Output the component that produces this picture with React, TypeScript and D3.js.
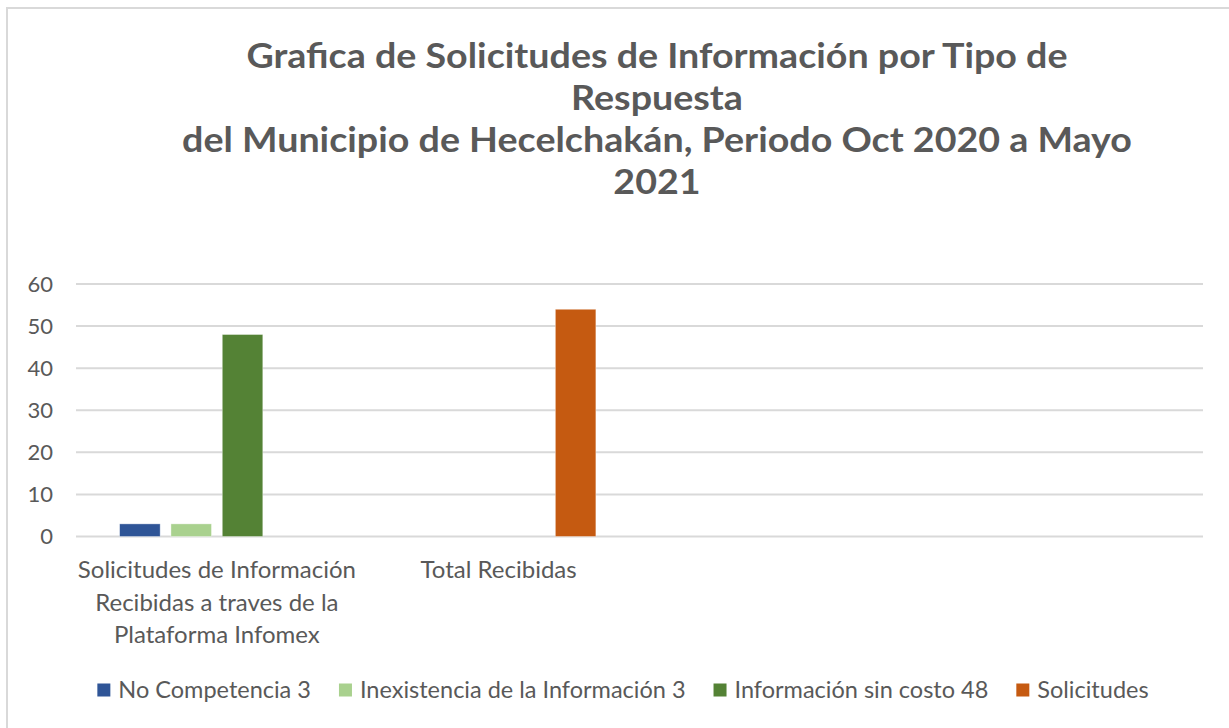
import React from "react";
import * as d3 from "d3";

const titleLines = [
  "Grafica de Solicitudes de Información por Tipo de",
  "Respuesta",
  "del Municipio de Hecelchakán, Periodo Oct 2020 a Mayo",
  "2021",
];

const categoryKeys = ["cat1", "cat2", "cat3", "cat4"];
const categoryLines = [
  ["Solicitudes de Información", "Recibidas a traves de la", "Plataforma Infomex"],
  ["Total Recibidas"],
  [],
  [],
];

const seriesNames = [
  "No Competencia 3",
  "Inexistencia de la Información 3",
  "Información sin costo 48",
  "Solicitudes",
];
const seriesColors = ["#2F5597", "#A9D18E", "#548235", "#C55A11"];

const noCompetencia = [3, 0, 0, 0];
const inexistencia = [3, 0, 0, 0];
const sinCosto = [48, 0, 0, 0];
const solicitudes = [0, 54, 0, 0];
const seriesValues = [noCompetencia, inexistencia, sinCosto, solicitudes];

const yTicks = [0, 10, 20, 30, 40, 50, 60];

const W = 1229;
const H = 728;
const TEXT = "#595959";
const GRID = "#d9d9d9";

function measure(text: string, font: string): number {
  const c = document.createElement("canvas").getContext("2d");
  if (!c) return text.length * 10;
  c.font = font;
  return c.measureText(text).width;
}

export default function App() {
  const plot = { left: 76, right: 1203, top: 284, bottom: 536.5 };
  const x0 = d3.scaleBand<string>().domain(categoryKeys).range([plot.left, plot.right]).paddingInner(0).paddingOuter(0);
  const x1 = d3
    .scaleBand<number>()
    .domain(d3.range(seriesNames.length))
    .range([0, x0.bandwidth()])
    .paddingInner(0.21)
    .paddingOuter(0.85);
  const y = d3.scaleLinear().domain([0, 60]).range([plot.bottom, plot.top]);

  const bars: { key: string; s: number; c: number; v: number }[] = [];
  seriesValues.forEach((vals, s) =>
    vals.forEach((v, c) => {
      if (v > 0) bars.push({ key: `${s}-${c}`, s, c, v });
    })
  );

  // legend layout
  const legendSize = 23.5;
  const legendFont = `${legendSize}px Lato`;
  const sq = 13;
  const sqGap = 8;
  const itemGap = 28;
  const widths = seriesNames.map((n) => measure(n, legendFont));
  const total = widths.reduce((a, w) => a + sq + sqGap + w, 0) + itemGap * (seriesNames.length - 1);
  const legendCenter = 623;
  let lx = legendCenter - total / 2;
  const legendItems = seriesNames.map((n, i) => {
    const item = { name: n, color: seriesColors[i], x: lx };
    lx += sq + sqGap + widths[i] + itemGap;
    return item;
  });

  const titleCx = 657;
  const titleBase = 68;
  const titleStep = 42;

  return (
    <svg
      width={W}
      height={H}
      style={{ position: "fixed", left: 0, top: 0, background: "#fff" }}
      fontFamily="Lato, sans-serif"
    >
      <rect x={0} y={0} width={W} height={H} fill="#fff" />
      <rect x={7} y={8} width={W + 100} height={H + 100} fill="#fff" stroke={GRID} strokeWidth={2} />

      <g transform={`translate(${titleCx},0) scale(1.075,1)`}>
        {titleLines.map((t, i) => (
          <text
            key={i}
            x={0}
            y={titleBase + i * titleStep}
            textAnchor="middle"
            fontSize={35}
            fontWeight={700}
            fill={TEXT}
          >
            {t}
          </text>
        ))}
      </g>

      {yTicks.map((t) => (
        <g key={t}>
          <line x1={plot.left} x2={plot.right} y1={y(t)} y2={y(t)} stroke={GRID} strokeWidth={2} />
          <text x={53} y={y(t) + 7.5} textAnchor="end" fontSize={22} fill={TEXT}>
            {t}
          </text>
        </g>
      ))}

      {bars.map((b) => (
        <rect
          key={b.key}
          x={(x0(categoryKeys[b.c]) ?? 0) + (x1(b.s) ?? 0)}
          width={x1.bandwidth()}
          y={y(b.v)}
          height={y(0) - y(b.v)}
          fill={seriesColors[b.s]}
          stroke="#fff"
          strokeOpacity={0.5}
          strokeWidth={0.75}
        />
      ))}

      {categoryKeys.map((k, i) => (
        <text key={k} textAnchor="middle" fontSize={24} fill={TEXT}>
          {categoryLines[i].map((line, j) => (
            <tspan key={j} x={(x0(k) ?? 0) + x0.bandwidth() / 2} y={578 + j * 32.5}>
              {line}
            </tspan>
          ))}
        </text>
      ))}

      {legendItems.map((it) => (
        <g key={it.name}>
          <rect x={it.x} y={683.5} width={sq} height={sq} fill={it.color} />
          <text x={it.x + sq + sqGap} y={698} fontSize={legendSize} fill={TEXT}>
            {it.name}
          </text>
        </g>
      ))}
    </svg>
  );
}
